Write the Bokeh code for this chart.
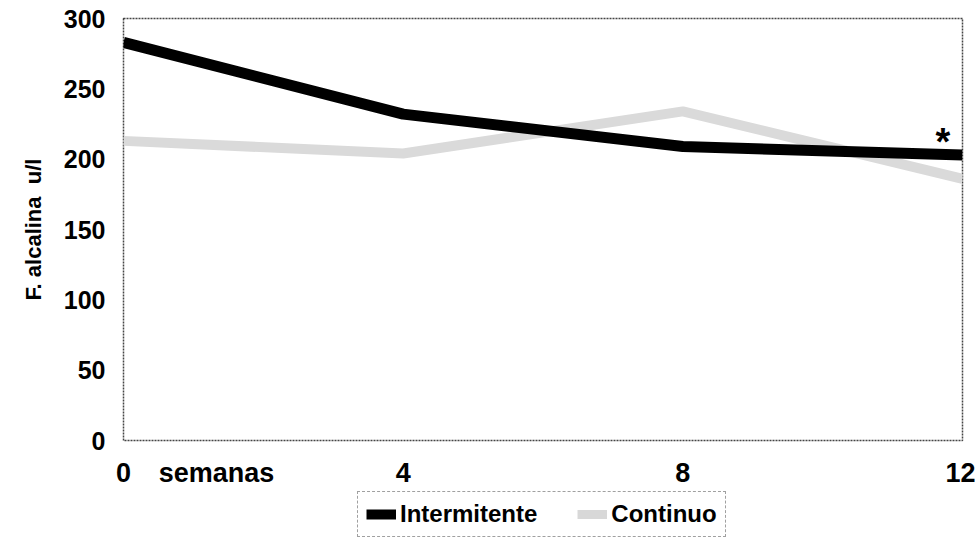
from bokeh.plotting import figure
from bokeh.models import (ColumnDataSource, FixedTicker, Range1d, Legend, LegendItem, Label, Title)
from bokeh.layouts import column
from bokeh.embed import file_html
from bokeh.resources import INLINE

# ---- data ----
weeks = [0, 4, 8, 12]
x_unit_pos = 1.33
x_tick_labels = {0: "0", 1.33: "semanas", 4: "4", 8: "8", 12: "12"}
intermitente = [283, 232, 209, 203]
continuo = [213, 204, 234, 186]
y_ticks = [0, 50, 100, 150, 200, 250, 300]
series_names = ["Intermitente", "Continuo"]
y_title = "F. alcalina\u00a0 u/l"

FONT = "Liberation Sans"
W = 975

p = figure(width=W, height=490, output_backend="svg", toolbar_location=None,
           x_range=Range1d(0, 12), y_range=Range1d(0, 300),
           min_border_left=123, min_border_top=18, min_border_right=13, min_border_bottom=43)
p.background_fill_color = "white"
p.border_fill_color = "white"
p.outline_line_color = "#444444"
p.outline_line_width = 1.5
p.outline_line_dash = "2 1"
p.xgrid.visible = False
p.ygrid.visible = False

src = ColumnDataSource(dict(x=weeks, a=intermitente, b=continuo))
r_cont = p.line("x", "b", source=src, line_color="#dadada", line_width=10)
r_int = p.line("x", "a", source=src, line_color="black", line_width=11)

for ax in (p.xaxis[0], p.yaxis[0]):
    ax.axis_line_color = None
    ax.major_tick_line_color = None
    ax.minor_tick_line_color = None
    ax.major_label_text_font = FONT
    ax.major_label_text_font_style = "bold"
    ax.major_label_text_color = "black"

p.xaxis.ticker = FixedTicker(ticks=weeks[:1] + [x_unit_pos] + weeks[1:])
p.xaxis.major_label_overrides = x_tick_labels
p.xaxis.major_label_text_font_size = "27px"
p.xaxis.major_label_standoff = 11
p.yaxis.ticker = FixedTicker(ticks=y_ticks)
p.yaxis.major_label_text_font_size = "25px"
p.yaxis.major_label_standoff = 12

# y axis title
p.add_layout(Title(text=y_title, align="center", offset=49, standoff=30,
                   text_font=FONT, text_font_style="bold", text_font_size="22px",
                   text_color="black"), "left")

# significance asterisk
p.add_layout(Label(x=11.72, y=212, text="*",
                   text_align="center", text_baseline="middle",
                   text_font=FONT, text_font_style="bold", text_font_size="38px",
                   text_color="black"))

# legend in a strip below the chart (ranges kept away from the data so only the legend shows)
lg = figure(width=W, height=50, output_backend="svg", toolbar_location=None,
            x_range=Range1d(100, 101), y_range=Range1d(1000, 1001),
            min_border_left=0, min_border_right=0, min_border_top=0, min_border_bottom=0)
lg.axis.visible = False
lg.grid.visible = False
lg.outline_line_color = None
l_int = lg.line("x", "a", source=src, line_color="black", line_width=10)
l_cont = lg.line("x", "b", source=src, line_color="#d8d8d8", line_width=9)

legend = Legend(items=[LegendItem(label=series_names[0], renderers=[l_int]),
                       LegendItem(label=series_names[1], renderers=[l_cont])],
                orientation="horizontal", location=(234, 3),
                label_text_font=FONT, label_text_font_style="bold",
                label_text_font_size="24px", label_text_color="black",
                glyph_width=30, glyph_height=20, label_standoff=4, spacing=40,
                padding=8, margin=0,
                border_line_color="#444444", border_line_width=1, border_line_dash="2 1",
                background_fill_color="white", background_fill_alpha=1)
lg.add_layout(legend)

layout = column(p, lg, spacing=0)
open("out.html", "w").write(file_html(layout, INLINE))
